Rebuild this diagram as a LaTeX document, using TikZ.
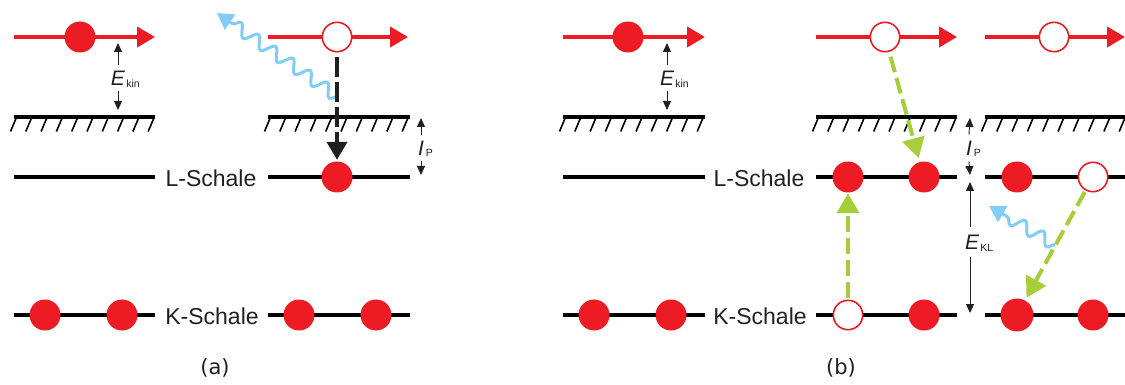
\documentclass[tikz,border=0pt]{standalone}
\usepackage{fontspec}
\setmainfont{Liberation Sans}
\newfontfamily\captfont{DejaVu Sans}
\usetikzlibrary{arrows.meta,decorations.pathmorphing}
\definecolor{ered}{RGB}{237,28,36}
\definecolor{egreen}{RGB}{166,206,57}
\definecolor{eblue}{RGB}{130,205,245}
\definecolor{etext}{RGB}{35,31,32}
\newcommand\mygnd[2]{%
  \draw[levelline] (#1,117) -- (#2,117);
  \foreach \k in {0,...,9} \draw[hatchline] ({#1+2+\k*15.3},118.5) -- ++(-5.5,13);
}
\begin{document}
\begin{tikzpicture}[x=1pt,y=-1pt,
  electron/.style={circle, fill=ered, minimum size=31pt, inner sep=0pt},
  hole/.style={circle, draw=ered, line width=1.6pt, fill=white, minimum size=29.4pt, inner sep=0pt},
  redline/.style={ered, line width=4pt, -{Triangle[length=18pt,width=20pt]}},
  levelline/.style={black, line width=4pt},
  hatchline/.style={black, line width=1.6pt},
  smallarr/.style={etext, line width=0.9pt, -{Triangle[length=9pt,width=8pt]}},
  greenarr/.style={egreen, line width=4pt, dash pattern=on 16pt off 6pt, -{Triangle[length=20pt,width=22pt]}},
  blackarr/.style={etext, line width=4pt, dash pattern=on 20pt off 5pt, -{Triangle[length=18pt,width=20pt]}},
  photon/.style={eblue, line width=3pt, decorate, decoration={snake, amplitude=6pt, segment length=21pt, post length=15pt}, -{Triangle[length=16pt,width=18pt]}},
  shelltxt/.style={font=\fontsize{23}{23}\selectfont, text=etext, inner sep=0pt},
  lbl/.style={font=\fontsize{21}{21}\selectfont\itshape, text=etext, inner xsep=0.5pt, inner ysep=6pt},
  sublbl/.style={font=\fontsize{10.5}{10.5}\selectfont, text=etext, inner sep=0pt, anchor=base west},
  capt/.style={font=\captfont\fontsize{21}{21}\selectfont, text=etext, inner sep=0pt}
]
\clip (0,0) rectangle (1125,385);

% ---------------- (a) ----------------
\draw[redline] (14,37) -- (155,37);
\draw[redline] (268,37) -- (408,37);
\mygnd{14}{155}
\mygnd{268}{410}
\draw[levelline] (14,177) -- (155,177);
\draw[levelline] (268,177) -- (410,177);
\node[shelltxt] (lA) at (211,178.5) {L-Schale};
\draw[levelline] (14,315) -- (155,315);
\draw[levelline] (268,315) -- (410,315);
\node[shelltxt] (kA) at (212,316.5) {K-Schale};

\node[electron] (eA0) at (80,37) {};
\node[hole] (hA) at (337,37) {};
\node[electron] (eAL) at (337,177) {};
\node[electron] (eAK1) at (45,315) {};
\node[electron] (eAK2) at (122,315) {};
\node[electron] (eAK3) at (299,315) {};
\node[electron] (eAK4) at (376,315) {};

% E_kin
\coordinate (ekAt) at (118,43);
\coordinate (ekAb) at (118,110);
\node[lbl] (ekA) at (118,78) {E};
\node[sublbl] (ekAs) at ([xshift=0.5pt,yshift=-2pt]ekA.base east) {kin};
\draw[smallarr] (ekA) -- (ekAt);
\draw[smallarr] (ekA) -- (ekAb);
% I_P
\coordinate (ipAt) at (421,118);
\coordinate (ipAb) at (421,175);
\node[lbl] (ipA) at (421,148) {I};
\node[sublbl] (ipAs) at ([xshift=1pt,yshift=-1pt]ipA.base east) {P};
\draw[smallarr] (ipA) -- (ipAt);
\draw[smallarr] (ipA) -- (ipAb);

% photon and transition
\coordinate (phA0) at (338,97);
\coordinate (phA1) at (217,13);
\draw[photon] (phA0) -- (phA1);
\draw[blackarr, shorten <=5pt, shorten >=1.5pt] (hA) -- (eAL);

\node[capt] (capA) at (215,367.5) {(a)};

% ---------------- (b) ----------------
\draw[redline] (563,37) -- (705,37);
\draw[redline] (816,37) -- (957,37);
\draw[redline] (985,37) -- (1125,37);
\mygnd{563}{705}
\mygnd{816}{957}
\mygnd{985}{1130}
\draw[levelline] (563,177) -- (705,177);
\draw[levelline] (816,177) -- (957,177);
\draw[levelline] (985,177) -- (1130,177);
\node[shelltxt] (lB) at (759,178.5) {L-Schale};
\draw[levelline] (563,315) -- (705,315);
\draw[levelline] (816,315) -- (957,315);
\draw[levelline] (985,315) -- (1130,315);
\node[shelltxt] (kB) at (760,316.5) {K-Schale};

\node[electron] (eB0) at (628,37) {};
\node[hole] (hB) at (885,37) {};
\node[hole] (hC) at (1054,37) {};
\node[electron] (eBK1) at (594,315) {};
\node[electron] (eBK2) at (671,315) {};
\node[electron] (eBL1) at (848,177) {};
\node[electron] (eBL2) at (924,177) {};
\node[hole] (hBK) at (848,315) {};
\node[electron] (eBK3) at (924,315) {};
\node[electron] (eCL1) at (1017,177) {};
\node[hole] (hCL) at (1093,177) {};
\node[electron, minimum size=33pt] (eCK1) at (1017,315) {};
\node[electron] (eCK2) at (1093,315) {};

% E_kin (b)
\coordinate (ekBt) at (667,43);
\coordinate (ekBb) at (667,110);
\node[lbl] (ekB) at (667,78) {E};
\node[sublbl] (ekBs) at ([xshift=0.5pt,yshift=-2pt]ekB.base east) {kin};
\draw[smallarr] (ekB) -- (ekBt);
\draw[smallarr] (ekB) -- (ekBb);
% I_P (b)
\coordinate (ipBt) at (970,118);
\coordinate (ipBb) at (970,175);
\node[lbl] (ipB) at (969,148) {I};
\node[sublbl] (ipBs) at ([xshift=1pt,yshift=-1pt]ipB.base east) {P};
\draw[smallarr] (ipB.center |- ipB.north) -- (ipBt);
\draw[smallarr] (ipB.center |- ipB.south) -- (ipBb);
% E_KL
\coordinate (eklt) at (970,182);
\coordinate (eklb) at (970,313);
\node[lbl, inner ysep=8pt] (ekl) at (972,242) {E};
\node[sublbl] (ekls) at ([xshift=0.5pt,yshift=-2pt]ekl.base east) {KL};
\draw[smallarr] (970,0 |- ekl.north) -- (eklt);
\draw[smallarr] (970,0 |- ekl.south) -- (eklb);

% transitions
\draw[greenarr, shorten <=5pt, shorten >=4pt] (hB) -- (eBL2);
\draw[greenarr, shorten <=2pt, shorten >=0.5pt] (hBK) -- (eBL1);
\draw[greenarr, shorten <=1.5pt, shorten >=3pt] (hCL) -- (eCK1);
\coordinate (phB0) at (1055,245);
\coordinate (phB1) at (989,206);
\draw[photon] (phB0) -- (phB1);

\node[capt] (capB) at (841,367.5) {(b)};
\end{tikzpicture}
\end{document}
